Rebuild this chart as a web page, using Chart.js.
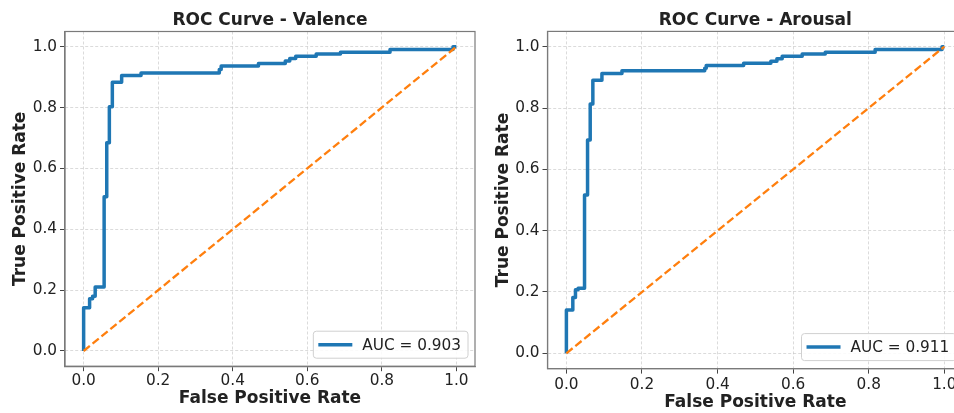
<!DOCTYPE html>
<html>
<head>
<meta charset="utf-8">
<title>ROC Curves</title>
<script src="https://cdn.jsdelivr.net/npm/chart.js@4/dist/chart.umd.min.js"></script>
<style>
  html, body { margin: 0; padding: 0; background: #fff; overflow: hidden; }
  body { width: 954px; height: 413px; position: relative; }
  canvas { position: absolute; top: 0; }
  #valenceChart { left: 0; }
  #arousalChart { left: 480px; }
</style>
</head>
<body>
<canvas id="valenceChart" width="480" height="413"></canvas>
<canvas id="arousalChart" width="500" height="413"></canvas>
<script>
// -------- DATA --------
const tickValues = [0, 0.2, 0.4, 0.6, 0.8, 1.0];
const chanceFpr = [0, 1];
const chanceTpr = [0, 1];

const valenceAuc = 0.903;
const valenceFpr = [0, 0, 0.016, 0.016, 0.024, 0.024, 0.031, 0.031, 0.055, 0.055, 0.062, 0.062,
  0.069, 0.069, 0.077, 0.077, 0.102, 0.102, 0.154, 0.154, 0.364, 0.364, 0.369, 0.369,
  0.469, 0.469, 0.541, 0.541, 0.553, 0.553, 0.569, 0.569, 0.624, 0.624, 0.689, 0.689,
  0.822, 0.822, 0.991, 0.991, 1.0];
const valenceTpr = [0, 0.142, 0.142, 0.172, 0.172, 0.18, 0.18, 0.21, 0.21, 0.507, 0.507, 0.684,
  0.684, 0.803, 0.803, 0.883, 0.883, 0.905, 0.905, 0.914, 0.914, 0.925, 0.925, 0.937,
  0.937, 0.945, 0.945, 0.953, 0.953, 0.961, 0.961, 0.969, 0.969, 0.976, 0.976, 0.982,
  0.982, 0.991, 0.991, 1.0, 1.0];

const arousalAuc = 0.911;
const arousalFpr = [0, 0, 0.017, 0.017, 0.024, 0.024, 0.031, 0.031, 0.048, 0.048, 0.056, 0.056,
  0.063, 0.063, 0.07, 0.07, 0.094, 0.094, 0.147, 0.147, 0.366, 0.366, 0.37, 0.37,
  0.469, 0.469, 0.541, 0.541, 0.557, 0.557, 0.571, 0.571, 0.624, 0.624, 0.685, 0.685,
  0.817, 0.817, 0.994, 0.994, 1.0];
const arousalTpr = [0, 0.141, 0.141, 0.182, 0.182, 0.207, 0.207, 0.212, 0.212, 0.516, 0.516, 0.696,
  0.696, 0.813, 0.813, 0.891, 0.891, 0.913, 0.913, 0.922, 0.922, 0.93, 0.93, 0.939,
  0.939, 0.946, 0.946, 0.953, 0.953, 0.961, 0.961, 0.969, 0.969, 0.976, 0.976, 0.982,
  0.982, 0.991, 0.991, 1.0, 1.0];

const FONT = "'DejaVu Sans', 'Liberation Sans', sans-serif";
const TEXT = "#222";
const FRAME = "#7a7a7a";

Chart.defaults.font.family = FONT;
Chart.defaults.color = TEXT;

const toPoints = (xs, ys) => xs.map((x, i) => ({ x: x, y: ys[i] }));

// -------- PLUGINS --------
const framePlugin = {
  id: "frame",
  afterDraw(chart) {
    const a = chart.chartArea;
    const ctx = chart.ctx;
    ctx.save();
    ctx.strokeStyle = FRAME;
    ctx.lineWidth = 1.2;
    ctx.strokeRect(a.left, a.top, a.right - a.left, a.bottom - a.top);
    ctx.restore();
  }
};

const legendBoxPlugin = {
  id: "legendBox",
  afterDraw(chart) {
    const ds = chart.data.datasets.find(d => d.label);
    if (!ds) return;
    const a = chart.chartArea;
    const ctx = chart.ctx;
    ctx.save();
    ctx.font = "15.3px " + FONT;
    const tw = ctx.measureText(ds.label).width;
    const h = 27, w = 5 + 34 + 10 + tw + 7;
    const x = a.right - 7 - w;
    const y = a.bottom - 8 - h;
    ctx.beginPath();
    ctx.roundRect(x, y, w, h, 3);
    ctx.fillStyle = "rgba(255,255,255,0.85)";
    ctx.fill();
    ctx.strokeStyle = "#d0d0d0";
    ctx.lineWidth = 1;
    ctx.stroke();
    ctx.beginPath();
    ctx.moveTo(x + 5, y + h / 2);
    ctx.lineTo(x + 39, y + h / 2);
    ctx.strokeStyle = ds.borderColor;
    ctx.lineWidth = ds.borderWidth;
    ctx.stroke();
    ctx.fillStyle = TEXT;
    ctx.textBaseline = "middle";
    ctx.fillText(ds.label, x + 49, y + h / 2 + 1);
    ctx.restore();
  }
};

// -------- CHART --------
function makeRoc(id, title, fpr, tpr, auc, g) {
  const axis = (label, fit, titlePad, tickPad) => ({
    type: "linear",
    min: -0.05,
    max: 1.05,
    afterBuildTicks: s => { s.ticks = tickValues.map(v => ({ value: v })); },
    afterFit: fit,
    grid: {
      color: "rgba(190,190,190,0.7)",
      lineWidth: 0.8,
      tickLength: 5,
      tickColor: "#444",
      tickWidth: 1
    },
    border: { display: true, color: FRAME, width: 1.2, dash: [3, 2] },
    ticks: {
      padding: tickPad,
      font: { size: 15.3 },
      color: TEXT,
      callback: v => v.toFixed(1)
    },
    title: {
      display: true,
      text: label,
      color: TEXT,
      font: { size: 17, weight: "bold" },
      padding: titlePad
    }
  });

  return new Chart(document.getElementById(id), {
    type: "scatter",
    data: {
      datasets: [
        {
          label: "",
          data: toPoints(chanceFpr, chanceTpr),
          showLine: true,
          borderColor: "#ff7f0e",
          borderWidth: 2.3,
          borderDash: [8, 3.5],
          pointRadius: 0,
          fill: false
        },
        {
          label: "AUC = " + auc.toFixed(3),
          data: toPoints(fpr, tpr),
          showLine: true,
          borderColor: "#1f77b4",
          borderWidth: 3.5,
          borderJoinStyle: "round",
          pointRadius: 0,
          fill: false
        }
      ]
    },
    options: {
      responsive: false,
      animation: false,
      devicePixelRatio: 1,
      layout: { padding: { left: 0, right: g.padRight, top: 0, bottom: 0 } },
      plugins: {
        legend: { display: false },
        tooltip: { enabled: false },
        title: {
          display: true,
          fullSize: false,
          text: title,
          color: TEXT,
          font: { size: 17, weight: "bold" },
          padding: { top: 10, bottom: g.titleBottom }
        }
      },
      scales: {
        x: axis("False Positive Rate", s => { s.height = g.xHeight; },
          { top: 0, bottom: g.xTitleBottom }, g.xTickPad),
        y: axis("True Positive Rate", s => { s.width = g.yWidth; },
          { top: g.yTitleTop, bottom: 0 }, 3)
      }
    },
    plugins: [framePlugin, legendBoxPlugin]
  });
}

makeRoc("valenceChart", "ROC Curve - Valence", valenceFpr, valenceTpr, valenceAuc, {
  padRight: 5, yWidth: 65, xHeight: 46.8, titleBottom: 1.1,
  yTitleTop: 10.3, xTitleBottom: 4.3, xTickPad: 1
});

makeRoc("arousalChart", "ROC Curve - Arousal", arousalFpr, arousalTpr, arousalAuc, {
  padRight: 16.8, yWidth: 67.5, xHeight: 44.4, titleBottom: 1.0,
  yTitleTop: 13.8, xTitleBottom: 0.2, xTickPad: 2
});
</script>
</body>
</html>
